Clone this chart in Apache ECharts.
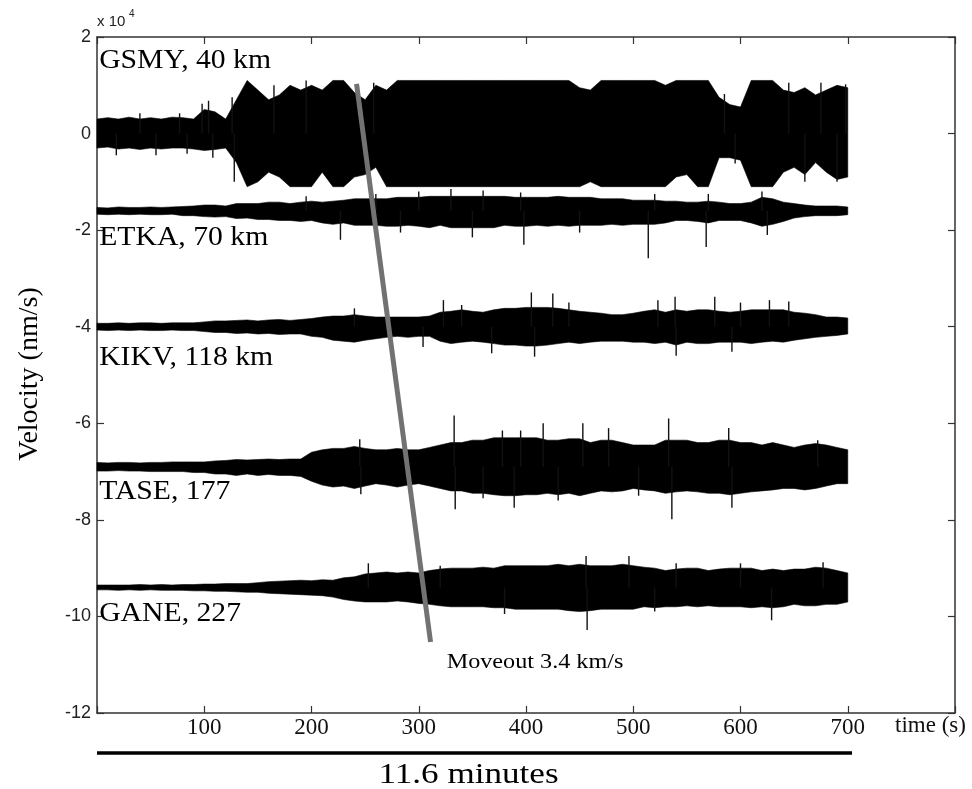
<!DOCTYPE html>
<html>
<head>
<meta charset="utf-8">
<title>Velocity records, 5 stations</title>
<script src="https://cdn.jsdelivr.net/npm/echarts@6/dist/echarts.min.js"></script>
<style>
html, body { margin: 0; padding: 0; background: #fff; }
#main { width: 972px; height: 789px; }
</style>
</head>
<body>
<div id="main"></div>
<script>
// sample times of the envelope readings (s)
var times = [0,10,20,30,40,50,60,70,80,90,100,110,120,130,140,150,160,170,180,190,
  200,210,220,230,240,250,260,270,280,290,300,310,320,330,340,350,360,370,380,390,
  400,410,420,430,440,450,460,470,480,490,500,510,520,530,540,550,560,570,580,590,
  600,610,620,630,640,650,660,670,680,690,700];

var stations = ['GSMY, 40 km', 'ETKA, 70 km', 'KIKV, 118 km', 'TASE, 177', 'GANE, 227'];
// trace offsets (x 10^4 nm/s)
var baselines = [0, -1.6, -4.0, -6.9, -9.4];

// dense part of each trace, relative to its offset (x 10^4 nm/s)
var gsmyUp = [0.30,0.33,0.30,0.34,0.30,0.33,0.30,0.34,0.33,0.30,
  0.50,0.45,0.30,0.70,1.10,0.90,0.70,0.80,1.00,0.90,
  1.00,0.90,1.10,1.10,0.85,0.70,1.00,0.90,1.10,1.10,
  1.10,1.10,1.10,1.10,1.10,1.10,1.10,1.10,1.10,1.10,
  1.10,1.10,1.10,1.10,1.10,0.95,0.90,1.10,1.10,1.10,
  1.10,1.10,1.10,1.00,1.10,1.10,1.10,1.10,0.75,0.60,
  0.55,1.10,1.10,1.10,0.90,0.85,0.95,0.80,0.90,1.00,0.95];
var gsmyLo = [-0.30,-0.28,-0.32,-0.30,-0.33,-0.30,-0.32,-0.30,-0.30,-0.32,
  -0.35,-0.33,-0.30,-0.60,-1.10,-1.00,-0.80,-0.90,-1.10,-1.10,
  -1.10,-0.80,-1.10,-1.10,-0.90,-0.85,-0.70,-1.10,-1.10,-1.10,
  -1.10,-1.10,-1.10,-1.10,-1.10,-1.10,-1.10,-1.10,-1.10,-1.10,
  -1.10,-1.10,-1.10,-1.10,-1.10,-1.10,-1.00,-1.10,-1.10,-1.10,
  -1.10,-1.10,-1.10,-1.10,-0.90,-0.85,-1.10,-1.10,-0.50,-0.50,
  -0.55,-1.10,-1.10,-1.10,-0.80,-0.70,-0.85,-0.60,-0.80,-0.95,-0.90];

var etkaUp = [0.07,0.06,0.08,0.07,0.07,0.08,0.07,0.08,0.09,0.10,
  0.12,0.12,0.10,0.15,0.15,0.15,0.18,0.18,0.15,0.18,
  0.20,0.18,0.20,0.22,0.25,0.25,0.25,0.25,0.28,0.28,
  0.28,0.30,0.30,0.30,0.30,0.30,0.30,0.30,0.30,0.28,
  0.28,0.28,0.28,0.30,0.28,0.28,0.28,0.25,0.25,0.25,
  0.22,0.22,0.22,0.20,0.20,0.18,0.18,0.20,0.18,0.15,
  0.15,0.18,0.28,0.25,0.18,0.15,0.12,0.10,0.10,0.10,0.08];
var etkaLo = [-0.07,-0.08,-0.07,-0.08,-0.07,-0.08,-0.08,-0.07,-0.10,-0.10,
  -0.12,-0.13,-0.12,-0.16,-0.15,-0.18,-0.18,-0.20,-0.20,-0.22,
  -0.20,-0.25,-0.28,-0.25,-0.30,-0.30,-0.30,-0.32,-0.32,-0.30,
  -0.32,-0.35,-0.30,-0.35,-0.35,-0.35,-0.35,-0.35,-0.30,-0.32,
  -0.32,-0.30,-0.32,-0.30,-0.32,-0.30,-0.30,-0.30,-0.28,-0.30,
  -0.28,-0.28,-0.28,-0.25,-0.20,-0.20,-0.22,-0.25,-0.20,-0.20,
  -0.20,-0.25,-0.32,-0.28,-0.22,-0.15,-0.12,-0.10,-0.10,-0.10,-0.08];

var kikvUp = [0.07,0.07,0.08,0.07,0.08,0.08,0.07,0.08,0.08,0.08,
  0.10,0.12,0.12,0.13,0.14,0.12,0.14,0.15,0.13,0.15,
  0.17,0.20,0.22,0.22,0.25,0.22,0.20,0.20,0.20,0.20,
  0.20,0.22,0.30,0.32,0.35,0.32,0.30,0.35,0.38,0.38,
  0.40,0.40,0.40,0.38,0.35,0.32,0.30,0.28,0.25,0.25,
  0.28,0.32,0.35,0.30,0.35,0.32,0.35,0.35,0.32,0.30,
  0.32,0.35,0.35,0.35,0.35,0.30,0.28,0.25,0.20,0.20,0.18];
var kikvLo = [-0.07,-0.08,-0.07,-0.08,-0.07,-0.08,-0.08,-0.07,-0.08,-0.08,
  -0.10,-0.12,-0.12,-0.14,-0.13,-0.15,-0.14,-0.16,-0.15,-0.15,
  -0.20,-0.22,-0.28,-0.30,-0.32,-0.28,-0.25,-0.22,-0.20,-0.22,
  -0.20,-0.20,-0.30,-0.35,-0.32,-0.30,-0.32,-0.35,-0.38,-0.38,
  -0.40,-0.40,-0.38,-0.35,-0.32,-0.35,-0.32,-0.30,-0.30,-0.30,
  -0.32,-0.32,-0.35,-0.32,-0.38,-0.32,-0.35,-0.35,-0.32,-0.32,
  -0.32,-0.35,-0.32,-0.30,-0.32,-0.28,-0.25,-0.22,-0.20,-0.18,-0.15];

var taseUp = [0.09,0.08,0.09,0.09,0.08,0.09,0.09,0.10,0.10,0.10,
  0.10,0.12,0.13,0.15,0.14,0.15,0.16,0.15,0.16,0.16,
  0.30,0.35,0.38,0.38,0.42,0.38,0.35,0.35,0.38,0.35,
  0.35,0.40,0.45,0.50,0.50,0.55,0.55,0.60,0.60,0.60,
  0.60,0.60,0.55,0.55,0.58,0.58,0.50,0.55,0.55,0.50,
  0.45,0.45,0.45,0.55,0.55,0.55,0.50,0.50,0.55,0.55,
  0.50,0.50,0.45,0.50,0.45,0.40,0.45,0.48,0.45,0.40,0.35];
var taseLo = [-0.09,-0.09,-0.08,-0.09,-0.09,-0.10,-0.10,-0.10,-0.10,-0.12,
  -0.12,-0.15,-0.15,-0.18,-0.15,-0.18,-0.16,-0.18,-0.18,-0.20,
  -0.30,-0.38,-0.42,-0.40,-0.45,-0.40,-0.35,-0.38,-0.42,-0.38,
  -0.35,-0.40,-0.45,-0.50,-0.50,-0.55,-0.55,-0.58,-0.60,-0.60,
  -0.58,-0.58,-0.55,-0.58,-0.55,-0.60,-0.55,-0.50,-0.52,-0.50,
  -0.45,-0.48,-0.50,-0.55,-0.52,-0.50,-0.52,-0.55,-0.55,-0.58,
  -0.55,-0.52,-0.50,-0.48,-0.45,-0.45,-0.48,-0.45,-0.40,-0.35,-0.35];

var ganeUp = [0.05,0.05,0.05,0.05,0.06,0.05,0.06,0.05,0.06,0.06,
  0.07,0.07,0.08,0.08,0.08,0.10,0.12,0.13,0.14,0.15,
  0.14,0.16,0.15,0.20,0.22,0.28,0.30,0.32,0.30,0.32,
  0.30,0.35,0.38,0.40,0.40,0.40,0.42,0.40,0.45,0.45,
  0.45,0.45,0.45,0.48,0.45,0.48,0.45,0.45,0.45,0.48,
  0.45,0.42,0.40,0.35,0.38,0.40,0.40,0.35,0.38,0.40,
  0.40,0.40,0.35,0.38,0.35,0.38,0.38,0.42,0.40,0.35,0.30];
var ganeLo = [-0.05,-0.05,-0.06,-0.05,-0.06,-0.05,-0.06,-0.06,-0.06,-0.07,
  -0.07,-0.08,-0.08,-0.09,-0.10,-0.10,-0.12,-0.13,-0.14,-0.15,
  -0.16,-0.17,-0.20,-0.25,-0.28,-0.30,-0.30,-0.30,-0.28,-0.30,
  -0.33,-0.35,-0.38,-0.40,-0.40,-0.40,-0.40,-0.42,-0.42,-0.45,
  -0.45,-0.45,-0.45,-0.45,-0.48,-0.50,-0.48,-0.45,-0.45,-0.45,
  -0.45,-0.40,-0.42,-0.40,-0.40,-0.38,-0.40,-0.38,-0.40,-0.40,
  -0.40,-0.42,-0.40,-0.42,-0.40,-0.35,-0.38,-0.38,-0.35,-0.35,-0.30];

// isolated spikes standing out of each trace: [time s, peak relative to offset]
var gsmySpikes = [[18,-0.45],[40,0.42],[55,-0.45],[77,0.42],[84,-0.42],[98,0.62],[104,0.68],
  [108,-0.5],[126,0.75],[128,-1.0],[165,1.0],[195,1.1],[258,1.05],[585,0.82],[595,-0.62],
  [645,1.05],[660,-1.0],[675,1.05],[690,-1.0],[698,1.02]];
var etkaSpikes = [[195,0.3],[227,-0.6],[260,0.35],[283,-0.45],[300,0.4],[330,0.45],[350,-0.55],
  [360,0.42],[395,0.38],[398,-0.7],[450,-0.45],[514,-0.98],[520,0.35],[568,-0.75],[570,0.35],
  [620,0.4],[625,-0.5]];
var kikvSpikes = [[240,0.38],[304,-0.42],[323,0.55],[340,0.45],[368,-0.55],[405,0.71],[408,-0.62],
  [425,0.69],[440,0.5],[523,0.55],[539,0.62],[540,-0.6],[576,0.62],[592,-0.52],[600,0.5],
  [627,0.55],[645,0.52]];
var taseSpikes = [[245,0.57],[246,-0.57],[333,1.06],[334,-0.88],[360,-0.65],[378,0.75],[389,-0.85],
  [395,0.75],[416,0.9],[430,-0.7],[453,0.9],[477,0.8],[505,-0.6],[533,1.0],[536,-1.09],
  [589,0.8],[592,-0.85],[672,0.55]];
var ganeSpikes = [[253,0.5],[320,0.45],[380,-0.55],[456,0.65],[457,-0.88],[496,0.65],[520,-0.5],
  [540,0.5],[600,0.5],[629,-0.68],[677,0.52]];

var upper = [gsmyUp, etkaUp, kikvUp, taseUp, ganeUp];
var lower = [gsmyLo, etkaLo, kikvLo, taseLo, ganeLo];
var spikes = [gsmySpikes, etkaSpikes, kikvSpikes, taseSpikes, ganeSpikes];

// moveout line end points [time s, velocity x 10^4]
var moveout = [[242, 1.03], [311, -10.53]];
var moveoutText = 'Moveout 3.4 km/s';
var xTicks = [100, 200, 300, 400, 500, 600, 700];
var scaleBarSeconds = [0, 704];

var SERIF = '"Liberation Serif", "DejaVu Serif", serif';
var SANS = '"Liberation Sans", Arial, sans-serif';

var chart = echarts.init(document.getElementById('main'));

// one filled polygon per trace: along the upper envelope, back along the lower one
function traceSeries(k) {
    var base = baselines[k], up = upper[k], lo = lower[k];
    var data = times.map(function (t, i) {
        return [t, base + lo[i], base + up[i]];
    });
    return {
        type: 'custom',
        name: stations[k],
        data: data,
        encode: { x: 0, y: [1, 2] },
        silent: true,
        z: 2,
        renderItem: function (params, api) {
            if (params.dataIndex !== 0) return;
            var pts = [], i;
            for (i = 0; i < data.length; i++) pts.push(api.coord([data[i][0], data[i][2]]));
            for (i = data.length - 1; i >= 0; i--) pts.push(api.coord([data[i][0], data[i][1]]));
            return {
                type: 'polygon',
                shape: { points: pts },
                style: { fill: '#000', stroke: '#000', lineWidth: 0.6 }
            };
        }
    };
}

// thin vertical strokes from the trace offset to each spike peak
function spikeSeries(k) {
    var base = baselines[k];
    var data = spikes[k].map(function (d) { return [d[0], base, base + d[1]]; });
    return {
        type: 'custom',
        data: data,
        encode: { x: 0, y: [1, 2] },
        silent: true,
        z: 3,
        renderItem: function (params, api) {
            var a = api.coord([api.value(0), api.value(1)]);
            var b = api.coord([api.value(0), api.value(2)]);
            return {
                type: 'line',
                shape: { x1: a[0], y1: a[1], x2: b[0], y2: b[1] },
                style: { stroke: '#111', lineWidth: 1.4 }
            };
        }
    };
}

var axisLine = { show: true, onZero: false, lineStyle: { color: '#333', width: 1.5 } };
var axisTick = { show: true, inside: true, length: 7, lineStyle: { color: '#333', width: 1.2 } };

var series = [];
for (var k = 0; k < stations.length; k++) {
    series.push(traceSeries(k));
    series.push(spikeSeries(k));
}
series.push({
    type: 'line',
    data: moveout,
    symbol: 'none',
    silent: true,
    z: 5,
    lineStyle: { color: '#727272', width: 5 }
});

chart.setOption({
    animation: false,
    backgroundColor: '#fff',
    grid: { left: 97, top: 37, right: 17, bottom: 76 },
    xAxis: [{
        type: 'value', min: 0, max: 800, interval: 100, position: 'bottom',
        axisLine: axisLine, axisTick: axisTick, splitLine: { show: false },
        axisLabel: {
            margin: 3, color: '#111', fontFamily: SERIF, fontSize: 23,
            formatter: function (v) { return xTicks.indexOf(v) >= 0 ? String(v) : ''; }
        }
    }, {
        type: 'value', min: 0, max: 800, interval: 100, position: 'top',
        axisLine: axisLine, axisTick: axisTick, splitLine: { show: false },
        axisLabel: { show: false }
    }],
    yAxis: [{
        type: 'value', min: -12, max: 2, interval: 2, position: 'left',
        axisLine: axisLine, axisTick: axisTick, splitLine: { show: false },
        axisLabel: { margin: 6, color: '#222', fontFamily: SANS, fontSize: 18 }
    }, {
        type: 'value', min: -12, max: 2, interval: 2, position: 'right',
        axisLine: axisLine, axisTick: axisTick, splitLine: { show: false },
        axisLabel: { show: false }
    }],
    series: series
});

// annotations placed from the axes
var labelOffsets = [1.5, -0.56, -0.65, -0.52, -0.55];
var g = [];
for (var s = 0; s < stations.length; s++) {
    var p = chart.convertToPixel({ gridIndex: 0 }, [2, baselines[s] + labelOffsets[s]]);
    g.push({
        type: 'text', x: p[0], y: p[1], scaleX: 1.1, z: 10,
        style: { text: stations[s], font: '27px ' + SERIF, fill: '#000', textAlign: 'left', textVerticalAlign: 'middle' }
    });
}
var mp = chart.convertToPixel({ gridIndex: 0 }, [326, -10.94]);
g.push({
    type: 'text', x: mp[0], y: mp[1], scaleX: 1.1, z: 10,
    style: { text: moveoutText, font: '22px ' + SERIF, fill: '#000', textAlign: 'left', textVerticalAlign: 'middle' }
});
var b0 = chart.convertToPixel({ xAxisIndex: 0 }, scaleBarSeconds[0]);
var b1 = chart.convertToPixel({ xAxisIndex: 0 }, scaleBarSeconds[1]);
g.push({
    type: 'line', z: 10,
    shape: { x1: b0, y1: 753, x2: b1, y2: 753 },
    style: { stroke: '#000', lineWidth: 3.5 }
});
g.push({
    type: 'text', x: (b0 + b1) / 2 - 6, y: 775, scaleX: 1.17, z: 10,
    style: { text: '11.6 minutes', font: '30px ' + SERIF, fill: '#000', textAlign: 'center', textVerticalAlign: 'middle' }
});
g.push({
    type: 'text', x: 895, y: 726, z: 10,
    style: { text: 'time (s)', font: '23px ' + SERIF, fill: '#111', textAlign: 'left', textVerticalAlign: 'middle' }
});
g.push({
    type: 'text', x: 30, y: 374, rotation: Math.PI / 2, z: 10,
    style: { text: 'Velocity (nm/s)', font: '28px ' + SERIF, fill: '#000', textAlign: 'center', textVerticalAlign: 'middle' }
});
g.push({
    type: 'text', x: 97, y: 22, z: 10,
    style: { text: 'x 10', font: '15px ' + SANS, fill: '#222', textAlign: 'left', textVerticalAlign: 'middle' }
});
g.push({
    type: 'text', x: 129, y: 14, z: 10,
    style: { text: '4', font: '10px ' + SANS, fill: '#222', textAlign: 'left', textVerticalAlign: 'middle' }
});
chart.setOption({ graphic: g });

window.addEventListener('resize', function () {
    chart.resize();
});
</script>
</body>
</html>
